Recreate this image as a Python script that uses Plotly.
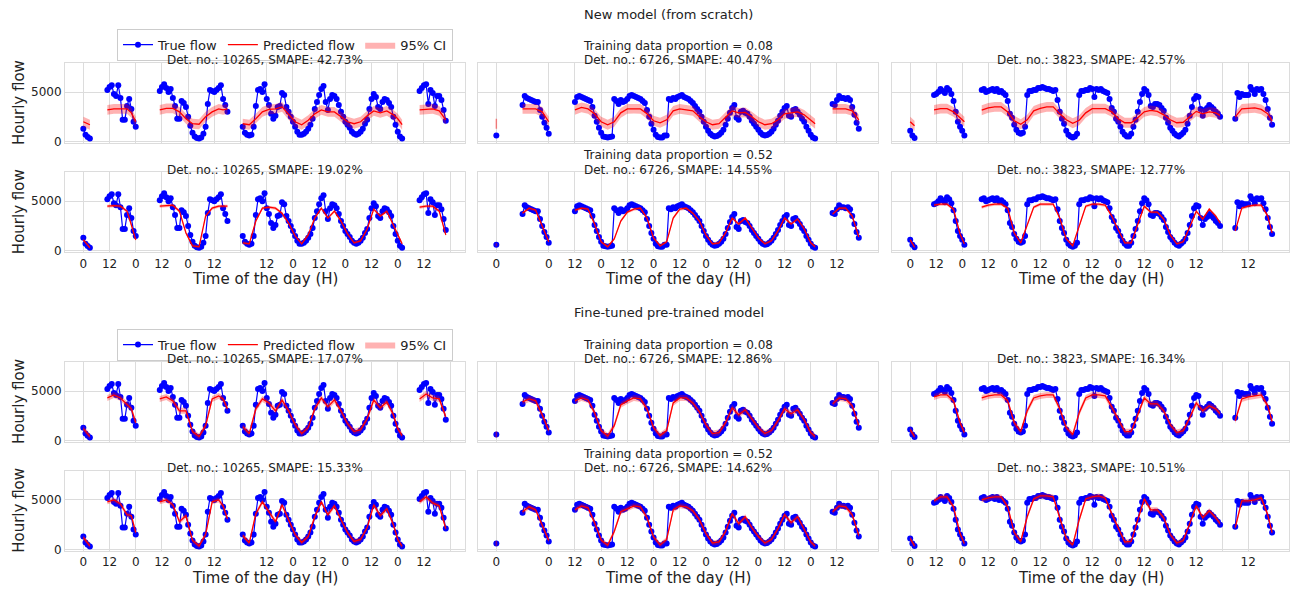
import plotly.graph_objects as go

# ---------------- data ----------------
detectors = ["10265", "6726", "3823"]
row_groups = ["New model (from scratch)", "New model (from scratch)",
              "Fine-tuned pre-trained model", "Fine-tuned pre-trained model"]
train_props = ["0.08", "0.52", "0.08", "0.52"]
smape = [[42.73, 40.47, 42.57],
         [19.02, 14.55, 12.77],
         [17.07, 12.86, 16.34],
         [15.33, 14.62, 10.51]]
ci_half = [500, 150, 300, 250]   # half width of the 95% CI per row

# true flow, hourly, per contiguous segment (start hour, values)
true_10265_starts = [0, 11, 35, 73, 154]
true_10265 = [
    [1300, 700, 470, 300],
    [5200, 5500, 5700, 4800, 4600, 5700, 4400, 2200, 2200, 3600, 4300, 3300, 2000, 1500],
    [5100, 5500, 5800, 5400, 5000, 5300, 4400, 3600, 2300, 2300, 4100, 3900, 3500, 2500, 1600, 900,
     500, 350, 300, 400, 800, 1500, 3800, 5200, 5100, 5000, 5200, 5400, 5700, 4300, 3700, 3000],
    [1500, 900, 700, 600, 700, 1500, 3600, 5200, 5300, 5000, 5800, 4300, 3700, 2800, 2300, 2600,
     3500, 3600, 4900, 4700, 3500, 3000, 2500, 2000, 1500, 1000, 700, 700, 800, 1000, 1300, 1700,
     2300, 3300, 4000, 4700, 5300, 5600, 4000, 3200, 4300, 4700, 4600, 4300, 3700, 3000, 2500, 2000,
     1700, 1400, 1000, 800, 700, 800, 1000, 1300, 1800, 2200, 3300, 4300, 4800, 4500, 3500, 3300,
     4000, 4300, 4200, 3900, 3500, 2500, 1700, 1000, 500, 300],
    [5100, 5400, 5700, 5800, 3800, 5200, 4900, 3600, 4600, 4600, 4200, 3200, 2100],
]
true_6726_starts = [0, 12, 36, 154]
true_6726 = [
    [600],
    [3700, 4600, 4400, 4300, 4200, 4100, 4000, 4000, 3200, 2500, 1900, 1400, 800],
    [4000, 4500, 4600, 4500, 4400, 4300, 4200, 4100, 3500, 2600, 2000, 1400, 900, 500, 450, 400,
     450, 500, 4300, 4100, 3800, 4200, 4000, 4100, 4300, 4600, 4700, 4600, 4500, 4400, 4300, 4100,
     3900, 3200, 2500, 1800, 1200, 700, 450, 400, 400, 600, 600, 4300, 4200, 4400, 4300, 4500,
     4600, 4700, 4500, 4400, 4300, 4100, 3900, 3600, 3300, 3000, 2500, 2000, 1500, 1100, 800, 600,
     500, 550, 700, 900, 1200, 1700, 2300, 2900, 3400, 3700, 2400, 2200, 3000, 3100, 2900, 2800,
     2500, 2100, 1800, 1500, 1200, 900, 700, 600, 650, 800, 1000, 1300, 1700, 2100, 2600, 3000,
     3400, 3600, 2600, 2500, 3200, 3300, 3000, 2700, 2300, 2000, 1500, 1100, 700, 400, 300],
    [3800, 3700, 4200, 4600, 4400, 4400, 4300, 4400, 4200, 3500, 2700, 1900, 1300],
]
true_3823_starts = [0, 11, 33, 150]
true_3823 = [
    [1100, 600, 350],
    [4700, 4800, 5000, 5300, 5100, 4900, 5400, 5200, 4800, 4100, 3000, 2000, 1500, 1100, 600],
    [5200, 5300, 5000, 5100, 5200, 5300, 5100, 5300, 5000, 5100, 4900, 4700, 4100, 2800, 2400, 1700,
     1200, 900, 800, 900, 1500, 4700, 5100, 5100, 5200, 5200, 5400, 5400, 5500, 5400, 5300, 5300,
     5200, 5100, 5200, 4200, 3000, 2300, 1800, 1100, 700, 500, 400, 500, 800, 4700, 5100, 5100,
     5200, 5200, 5400, 5300, 4500, 5300, 5200, 5300, 5100, 5000, 4900, 4300, 3400, 3000, 2300, 2000,
     1500, 1000, 700, 500, 500, 800, 1500, 2200, 3000, 4000, 4800, 5300, 5100, 4700, 3600, 3500,
     3800, 3800, 3700, 3400, 3100, 2400, 1900, 1400, 1100, 800, 600, 500, 700, 900, 1200, 1800,
     2600, 3500, 4300, 4600, 4500, 3300, 2600, 3200, 3400, 3700, 3500, 3300, 3000, 2800, 2500],
    [2300, 4900, 4500, 4800, 4700, 4700, 4700, 5500, 5200, 4800, 5300, 5200, 5300, 4800, 4200, 3300,
     2400, 1700],
]

# predicted flow: hours and values for each row (new 0.08, new 0.52, ft 0.08, ft 0.52)
pred_hours_10265 = [0, 3, 11, 14, 17, 20, 22, 24, 35, 38, 41, 44, 47, 50, 53, 56, 59, 62, 64, 66,
                    73, 76, 79, 82, 85, 88, 91, 94, 97, 100, 103, 106, 109, 112, 115, 118, 121, 124,
                    127, 130, 133, 136, 139, 142, 144, 146, 154, 157, 160, 163, 166]
pred_10265_r1 = [2000, 1700, 3200, 3300, 3300, 3300, 2900, 2000, 3200, 3350, 3350, 3000, 2300, 1800,
                 1750, 2500, 3000, 3300, 3200, 3300, 1800, 1700, 2300, 3000, 3250, 3300, 3500, 2700,
                 2000, 1700, 2150, 2800, 3200, 3000, 3000, 2500, 2000, 1800, 2000, 2600, 3100, 2900,
                 3100, 2700, 2300, 1700, 3200, 3250, 3300, 3100, 2200]
pred_10265_r2 = [1100, 300, 4500, 4550, 4500, 4000, 2600, 1100, 4500, 4550, 4600, 4000, 1800, 500,
                 400, 3500, 4300, 4500, 4500, 4500, 800, 700, 3000, 4300, 4400, 4300, 3800, 2800,
                 1500, 700, 1600, 3300, 4300, 3300, 4000, 3000, 1700, 800, 1000, 2200, 4200, 3500,
                 4000, 2600, 1500, 700, 4400, 4500, 4500, 4000, 1600]
pred_10265_r3 = [1200, 400, 4300, 4600, 4300, 3600, 3200, 1800, 4200, 4400, 4000, 3000, 3000, 900,
                 400, 1500, 4200, 4500, 4200, 3200, 1400, 700, 3200, 4200, 3800, 3000, 4100, 3000,
                 1600, 700, 1300, 3200, 4300, 3400, 4100, 3000, 1700, 900, 1100, 2200, 4100, 3300,
                 3900, 2600, 1200, 500, 4200, 4700, 4300, 4200, 2400]
pred_10265_r4 = [1200, 350, 4800, 5000, 4600, 3500, 3400, 1700, 4800, 5000, 4500, 2800, 3400, 900,
                 350, 1500, 4800, 5000, 4400, 3100, 1400, 650, 3600, 4800, 3800, 2800, 4500, 3000,
                 1500, 700, 1300, 3300, 4800, 3500, 4400, 3000, 1700, 800, 1000, 2200, 4500, 3400,
                 4100, 2500, 1000, 300, 4800, 5300, 4700, 4400, 2100]

pred_hours_6726 = [0, 12, 15, 18, 21, 24, 36, 39, 42, 45, 48, 51, 54, 57, 60, 63, 66, 69, 72, 75,
                   78, 81, 84, 87, 90, 93, 96, 99, 102, 105, 108, 111, 114, 117, 120, 123, 126, 129,
                   132, 135, 138, 141, 144, 146, 154, 157, 160, 163, 166]
pred_6726_r1 = [1800, 3300, 3300, 3300, 3000, 2000, 3200, 3450, 3300, 2800, 2000, 1700, 2000, 2900,
                3300, 3330, 3300, 2800, 2100, 1900, 2200, 3100, 3300, 3200, 3100, 2500, 2000, 1700,
                1800, 2450, 3100, 2900, 2950, 2500, 2000, 1700, 1800, 2200, 2800, 2900, 3000, 2700,
                2200, 1800, 3300, 3300, 3300, 3100, 2200]
pred_6726_r2 = [600, 3800, 4300, 4100, 2500, 900, 4100, 4300, 4200, 2700, 900, 400, 1200, 3000,
                3900, 4200, 4300, 3300, 1300, 500, 900, 3300, 4200, 4300, 3800, 3000, 1600, 700,
                800, 1800, 3300, 2700, 3300, 2300, 1300, 700, 1000, 2000, 3300, 2700, 3200, 2200,
                800, 400, 3700, 4300, 4300, 3500, 1400]
pred_6726_r3 = [600, 3900, 4200, 4000, 2600, 1000, 4000, 4300, 4100, 2800, 1000, 450, 1500, 3600,
                4000, 4300, 4200, 3200, 1300, 500, 1000, 3800, 4300, 4300, 3800, 2900, 1600, 700,
                800, 1800, 3300, 2600, 3100, 2200, 1300, 700, 1000, 2000, 3200, 2700, 3100, 2100,
                800, 400, 3700, 4300, 4200, 3500, 1500]
pred_6726_r4 = [600, 3800, 4300, 4000, 2500, 900, 4000, 4400, 4200, 2700, 950, 420, 1800, 3800,
                4100, 4400, 4300, 3200, 1250, 450, 1000, 4000, 4400, 4300, 3900, 3000, 1600, 650,
                750, 1800, 3600, 2600, 3300, 2200, 1300, 650, 1000, 2100, 3500, 2700, 3300, 2100,
                750, 350, 3800, 4400, 4300, 3500, 1400]

pred_hours_3823 = [0, 2, 11, 14, 17, 20, 23, 25, 33, 36, 39, 42, 45, 48, 51, 54, 57, 60, 63, 66,
                   69, 72, 75, 78, 81, 84, 87, 90, 93, 96, 99, 102, 105, 108, 111, 114, 117, 120,
                   123, 126, 129, 132, 135, 138, 141, 143, 150, 153, 156, 159, 162, 165, 167]
pred_3823_r1 = [2000, 1600, 3200, 3330, 3330, 3000, 2400, 2000, 3170, 3400, 3500, 3500, 3000, 2100,
                1750, 2200, 3100, 3350, 3500, 3500, 2800, 2200, 1850, 2150, 2900, 3330, 3330, 3330,
                3000, 2300, 1900, 1900, 2400, 3000, 3150, 3050, 2700, 2200, 1900, 1950, 2500, 3050,
                2800, 3000, 2900, 2650, 2500, 3300, 3350, 3400, 3250, 2800, 2100]
pred_3823_r2 = [1100, 350, 4600, 4700, 4700, 4200, 1700, 700, 4400, 4600, 4700, 4700, 4300, 1800,
                800, 2500, 4400, 4700, 4700, 4700, 3300, 1200, 500, 2500, 4500, 4700, 4700, 4600,
                3500, 2100, 800, 800, 2700, 4500, 3900, 3900, 3200, 1600, 700, 900, 2400, 4000,
                3200, 4200, 3500, 2800, 2000, 4300, 4500, 4600, 4600, 3500, 1800]
pred_3823_r3 = [1100, 400, 4400, 4600, 4600, 4000, 1800, 800, 4300, 4500, 4600, 4600, 4000, 1800,
                900, 3000, 4300, 4500, 4600, 4600, 3200, 1300, 600, 2800, 4300, 4600, 4600, 4500,
                3400, 2100, 900, 900, 2600, 4300, 3700, 3700, 3000, 1600, 800, 1000, 2300, 3800,
                3000, 3500, 3200, 2700, 2000, 4200, 4400, 4500, 4600, 3500, 1900]
pred_3823_r4 = [1100, 350, 4900, 5300, 5300, 4300, 1600, 600, 5000, 5200, 5300, 5300, 4300, 1700,
                800, 3300, 5100, 5400, 5400, 5300, 3200, 1100, 450, 3000, 5100, 5300, 5400, 5200,
                3600, 2100, 750, 800, 3000, 5100, 4000, 4000, 3200, 1500, 650, 900, 2600, 4400,
                3200, 3900, 3200, 2600, 2200, 4900, 4900, 5000, 5200, 3500, 1700]

# x ticks (hour positions and labels) per detector column
xtick_vals = [[0, 12, 24, 36, 48, 60, 72, 84, 96, 108, 120, 132, 144, 156, 168],
              [0, 24, 36, 48, 60, 72, 84, 96, 108, 120, 132, 144, 156],
              [0, 12, 24, 36, 48, 60, 72, 84, 96, 108, 120, 132, 144, 156]]
xtick_text = [["0", "12", "0", "12", "0", "12", "", "12", "0", "12", "0", "12", "0", "12", ""],
              ["0", "0", "12", "0", "12", "0", "12", "0", "12", "0", "12", "0", "12"],
              ["0", "12", "0", "12", "0", "12", "0", "12", "0", "12", "0", "12", "", "12"]]
ytick_vals = [0, 5000]

# ---------------- figure ----------------
W, H = 1290, 594
FONT = "DejaVu Sans"
BLUE = "#0000ff"
RED = "#ff0000"
BAND = "rgba(255,0,0,0.3)"
GRID = "#dcdcdc"
X_RANGE = [-8.4, 174.8]
Y_RANGE = [-150, 7950]

true_data = {"10265": (true_10265_starts, true_10265),
             "6726": (true_6726_starts, true_6726),
             "3823": (true_3823_starts, true_3823)}
pred_data = {"10265": (pred_hours_10265, [pred_10265_r1, pred_10265_r2, pred_10265_r3, pred_10265_r4]),
             "6726": (pred_hours_6726, [pred_6726_r1, pred_6726_r2, pred_6726_r3, pred_6726_r4]),
             "3823": (pred_hours_3823, [pred_3823_r1, pred_3823_r2, pred_3823_r3, pred_3823_r4])}

col_px = [(65, 465), (478, 878), (892, 1289)]
zero_px = [143, 253.3, 445, 555]
px_per_unit = 0.01


def split_segments(hours, vals, gap=4):
    segs, ch, cv = [], [], []
    for h, v in zip(hours, vals):
        if ch and h - ch[-1] > gap:
            segs.append((ch, cv))
            ch, cv = [], []
        ch.append(h)
        cv.append(v)
    if ch:
        segs.append((ch, cv))
    return segs


fig = go.Figure()
layout = {}
annotations = []

for r in range(4):
    z = zero_px[r]
    top_px = z - Y_RANGE[1] * px_per_unit
    bot_px = z - Y_RANGE[0] * px_per_unit
    ydom = [1 - bot_px / H, 1 - top_px / H]
    for c, det in enumerate(detectors):
        k = r * 3 + c + 1
        xn = "x" if k == 1 else f"x{k}"
        yn = "y" if k == 1 else f"y{k}"
        xdom = [col_px[c][0] / W, col_px[c][1] / W]
        leg = "legend" if r < 2 else "legend2"
        show = (c == 0 and r in (0, 2))

        # true flow
        starts, segs = true_data[det]
        tx, ty = [], []
        for s, vals in zip(starts, segs):
            if tx:
                tx.append(None)
                ty.append(None)
            tx += [s + i for i in range(len(vals))]
            ty += vals
        fig.add_trace(go.Scatter(x=tx, y=ty, mode="lines+markers", name="True flow",
                                 line=dict(color=BLUE, width=1.2),
                                 marker=dict(color=BLUE, size=6),
                                 xaxis=xn, yaxis=yn, legend=leg, legendrank=1,
                                 showlegend=show, hoverinfo="skip"))

        # CI band + predicted line
        phours, prows = pred_data[det]
        pvals = prows[r]
        hw = ci_half[r]
        first_band = True
        px_, py_ = [], []
        for sh, sv in split_segments(phours, pvals):
            up = [v + hw for v in sv]
            lo = [v - hw for v in sv]
            if len(sh) == 1:
                fig.add_trace(go.Scatter(x=[sh[0], sh[0]], y=[lo[0], up[0]], mode="lines",
                                         line=dict(color="rgba(255,0,0,0.45)", width=1.5),
                                         xaxis=xn, yaxis=yn, showlegend=False, hoverinfo="skip"))
            else:
                fig.add_trace(go.Scatter(x=sh + sh[::-1], y=up + lo[::-1], mode="lines",
                                         fill="toself", fillcolor=BAND,
                                         line=dict(color="rgba(255,0,0,0)", width=0),
                                         name="95% CI", xaxis=xn, yaxis=yn, legend=leg,
                                         legendrank=3, showlegend=show and first_band,
                                         hoverinfo="skip"))
                first_band = False
            if px_:
                px_.append(None)
                py_.append(None)
            px_ += sh
            py_ += sv
        fig.add_trace(go.Scatter(x=px_, y=py_, mode="lines", name="Predicted flow",
                                 line=dict(color=RED, width=1.3),
                                 xaxis=xn, yaxis=yn, legend=leg, legendrank=2,
                                 showlegend=show, hoverinfo="skip"))

        layout["xaxis" if k == 1 else f"xaxis{k}"] = dict(
            domain=xdom, range=X_RANGE, anchor=yn, tickmode="array",
            tickvals=xtick_vals[c], ticktext=xtick_text[c],
            showticklabels=(r in (1, 3)), ticks="", showgrid=True, gridcolor=GRID,
            gridwidth=1, zeroline=False, showline=True, linecolor=GRID, linewidth=1,
            mirror=True, tickfont=dict(family=FONT, size=12, color="#222"))
        layout["yaxis" if k == 1 else f"yaxis{k}"] = dict(
            domain=ydom, range=Y_RANGE, anchor=xn, tickmode="array",
            tickvals=ytick_vals, ticktext=["0", "5000"],
            showticklabels=(c == 0), ticks="", showgrid=True, gridcolor=GRID,
            gridwidth=1, zeroline=False, showline=True, linecolor=GRID, linewidth=1,
            mirror=True, tickfont=dict(family=FONT, size=12, color="#222"))

        # titles
        cx = (col_px[c][0] + col_px[c][1]) / 2 / W
        annotations.append(dict(
            text=f"Det. no.: {det}, SMAPE: {smape[r][c]:.2f}%", x=cx, y=1 - (top_px - 2.5) / H,
            xref="paper", yref="paper", xanchor="center", yanchor="middle", showarrow=False,
            font=dict(family=FONT, size=12, color="#222")))
        if c == 1:
            annotations.append(dict(
                text=f"Training data proportion = {train_props[r]}", x=cx,
                y=1 - (top_px - 17) / H, xref="paper", yref="paper", xanchor="center",
                yanchor="middle", showarrow=False, font=dict(family=FONT, size=12, color="#222")))
        if r in (1, 3):
            annotations.append(dict(
                text="Time of the day (H)", x=cx, y=1 - (bot_px + 27) / H, xref="paper",
                yref="paper", xanchor="center", yanchor="middle", showarrow=False,
                font=dict(family=FONT, size=15, color="#222")))
        if c == 0:
            annotations.append(dict(
                text="Hourly flow", x=19 / W, y=1 - ((top_px + bot_px) / 2) / H, xref="paper",
                yref="paper", xanchor="center", yanchor="middle", textangle=-90,
                showarrow=False, font=dict(family=FONT, size=15, color="#222")))

annotations.append(dict(text=row_groups[0], x=668 / W, y=1 - 15 / H, xref="paper",
                        yref="paper", xanchor="center", yanchor="middle", showarrow=False,
                        font=dict(family=FONT, size=13, color="#222")))
annotations.append(dict(text=row_groups[2], x=669 / W, y=1 - 316 / H, xref="paper",
                        yref="paper", xanchor="center", yanchor="middle", showarrow=False,
                        font=dict(family=FONT, size=13, color="#222")))

leg_style = dict(orientation="h", xanchor="left", yanchor="top", bgcolor="white",
                 bordercolor="#cccccc", borderwidth=1, traceorder="normal",
                 font=dict(family=FONT, size=13, color="#222"))
layout["legend"] = dict(x=117 / W, y=1 - 29 / H, **leg_style)
layout["legend2"] = dict(x=117 / W, y=1 - 332 / H, **leg_style)

fig.update_layout(width=W, height=H, margin=dict(l=0, r=0, t=0, b=0),
                  paper_bgcolor="white", plot_bgcolor="white",
                  annotations=annotations, **layout)

fig.write_html("out.html", config={"displayModeBar": False},
               post_script="document.body.style.margin='0';document.body.style.padding='0';")
